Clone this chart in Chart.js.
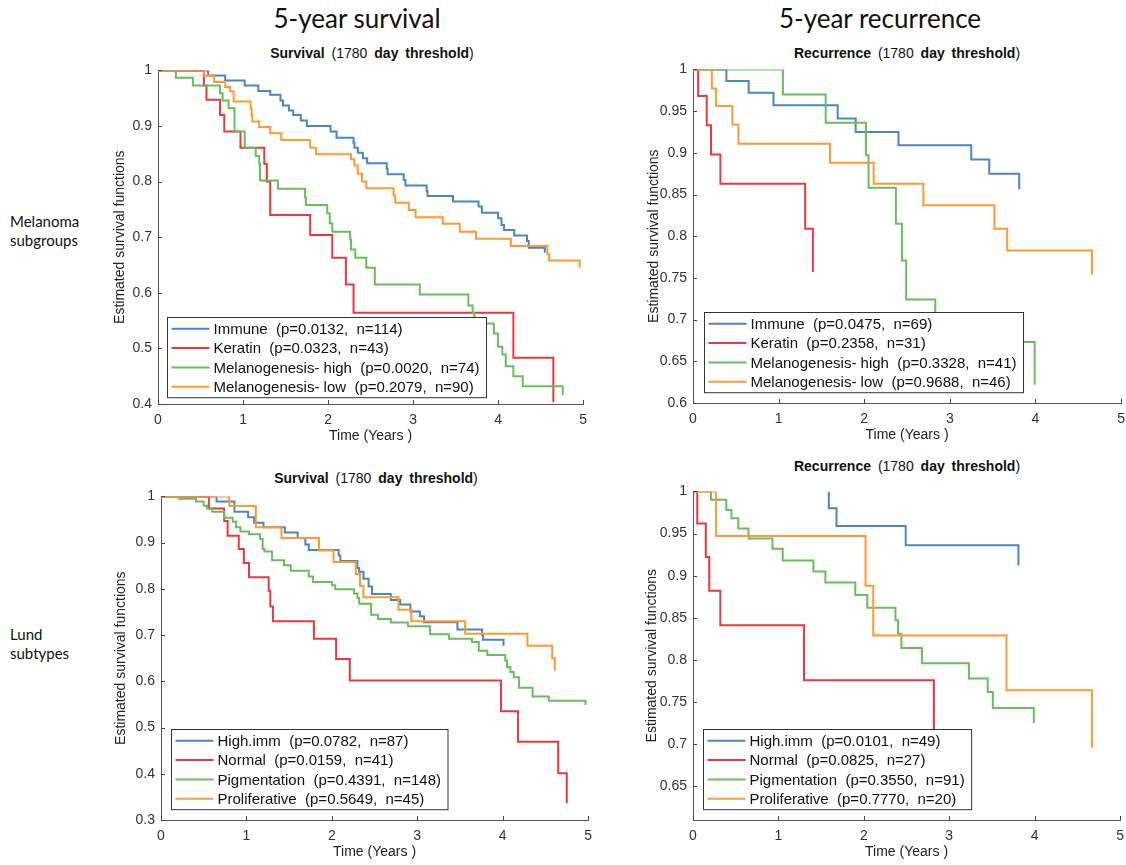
<!DOCTYPE html>
<html>
<head>
<meta charset="utf-8">
<script src="https://cdn.jsdelivr.net/npm/chart.js@4.4.0/dist/chart.umd.min.js"></script>
<style>
  html, body { margin: 0; padding: 0; background: #fff; }
  body { width: 1126px; height: 865px; position: relative; overflow: hidden; font-family: "Liberation Sans", Arial, sans-serif; }
  canvas { position: absolute; }
  .head { position: absolute; font-family: Lato, "Open Sans", sans-serif; font-size: 26px; color: #111; transform: translate(-50%, -50%); white-space: nowrap; }
  .row { position: absolute; font-family: Lato, "Open Sans", sans-serif; font-size: 15px; line-height: 19px; color: #111; }
  .ttl { position: absolute; font-size: 14px; color: #111; transform: translate(-50%, -50%); white-space: nowrap; word-spacing: 3px; }
</style>
</head>
<body>
<div class="head" style="left:357px; top:18px;">5-year survival</div>
<div class="head" style="left:880px; top:18px;">5-year recurrence</div>
<div class="row" style="left:10px; top:212px;">Melanoma<br>subgroups</div>
<div class="row" style="left:10px; top:625px;">Lund<br>subtypes</div>
<div class="ttl" style="left:372px; top:53px;"><b>Survival</b> (1780 <b>day threshold</b>)</div>
<div class="ttl" style="left:907px; top:53px;"><b>Recurrence</b> (1780 <b>day threshold</b>)</div>
<div class="ttl" style="left:376px; top:478px;"><b>Survival</b> (1780 <b>day threshold</b>)</div>
<div class="ttl" style="left:907px; top:466px;"><b>Recurrence</b> (1780 <b>day threshold</b>)</div>

<canvas id="melSurv" width="500" height="396" style="left:95px; top:56px;"></canvas>
<canvas id="melRec" width="503" height="396" style="left:630px; top:55px;"></canvas>
<canvas id="lundSurv" width="502" height="386" style="left:98px; top:482px;"></canvas>
<canvas id="lundRec" width="502" height="391" style="left:630px; top:477px;"></canvas>

<script>
// ---- data: [time in years, estimated survival] at each step ----

// Melanoma subgroups, survival
const melSurvImmune = [[0,1],[0.59,0.991],[0.79,0.982],[1.02,0.973],[1.18,0.963],[1.32,0.956],[1.44,0.946],[1.47,0.937],[1.54,0.928],[1.59,0.92],[1.68,0.91],[1.75,0.90],[2.03,0.89],[2.10,0.879],[2.30,0.87],[2.31,0.861],[2.35,0.852],[2.41,0.842],[2.46,0.833],[2.69,0.823],[2.70,0.813],[2.89,0.803],[2.91,0.793],[3.16,0.783],[3.17,0.774],[3.47,0.764],[3.77,0.755],[3.81,0.744],[4.00,0.734],[4.04,0.722],[4.07,0.713],[4.19,0.703],[4.34,0.693],[4.36,0.681],[4.55,0.672]];
const melSurvKeratin = [[0,1],[0.54,0.973],[0.57,0.947],[0.73,0.92],[0.78,0.89],[0.97,0.861],[1.25,0.832],[1.28,0.80],[1.32,0.74],[1.79,0.704],[2.05,0.663],[2.21,0.615],[2.30,0.564],[4.18,0.483],[4.65,0.403]];
const melSurvMelHigh = [[0,1],[0.21,0.987],[0.41,0.973],[0.73,0.959],[0.76,0.946],[0.83,0.932],[0.90,0.89],[1.02,0.861],[1.15,0.846],[1.19,0.832],[1.20,0.802],[1.41,0.787],[1.73,0.772],[1.74,0.758],[1.99,0.743],[2.02,0.725],[2.05,0.71],[2.26,0.696],[2.27,0.678],[2.32,0.663],[2.45,0.645],[2.55,0.615],[3.08,0.597],[3.65,0.577],[3.70,0.563],[3.72,0.545],[3.95,0.527],[4.00,0.503],[4.05,0.489],[4.09,0.468],[4.18,0.45],[4.29,0.432],[4.76,0.416]];
const melSurvMelLow = [[0,1],[0.54,0.991],[0.66,0.979],[0.79,0.97],[0.85,0.962],[0.89,0.944],[1.09,0.932],[1.10,0.92],[1.11,0.908],[1.19,0.898],[1.32,0.887],[1.45,0.875],[1.79,0.861],[1.86,0.849],[2.27,0.84],[2.31,0.829],[2.35,0.814],[2.40,0.80],[2.45,0.788],[2.77,0.775],[2.79,0.762],[2.95,0.749],[3.03,0.736],[3.35,0.724],[3.55,0.71],[3.74,0.697],[4.15,0.684],[4.58,0.67],[4.60,0.658],[4.96,0.645]];

// Melanoma subgroups, recurrence
const melRecImmune = [[0,1],[0.39,0.986],[0.65,0.972],[0.94,0.957],[1.69,0.941],[1.90,0.925],[2.40,0.909],[3.25,0.892],[3.46,0.875],[3.81,0.856]];
const melRecKeratin = [[0,1],[0.06,0.968],[0.16,0.933],[0.21,0.898],[0.32,0.863],[1.31,0.809],[1.40,0.757]];
const melRecMelHigh = [[0,1],[1.05,0.97],[1.55,0.936],[2.02,0.897],[2.05,0.858],[2.37,0.815],[2.44,0.771],[2.49,0.724],[2.83,0.698],[3.40,0.673],[3.99,0.622]];
const melRecMelLow = [[0,1],[0.22,0.977],[0.27,0.956],[0.46,0.934],[0.53,0.911],[1.60,0.888],[2.11,0.863],[2.69,0.837],[3.52,0.809],[3.67,0.783],[4.66,0.754]];

// Lund subtypes, survival
const lundSurvHighImm = [[0,1],[0.65,0.989],[0.86,0.967],[1.02,0.955],[1.09,0.943],[1.20,0.933],[1.45,0.922],[1.60,0.91],[1.69,0.896],[1.73,0.884],[2.08,0.872],[2.10,0.86],[2.30,0.845],[2.32,0.837],[2.37,0.822],[2.43,0.805],[2.47,0.789],[2.69,0.776],[2.80,0.766],[2.92,0.751],[3.03,0.741],[3.08,0.728],[3.47,0.712],[3.76,0.70],[3.77,0.69],[4.01,0.677]];
const lundSurvNormal = [[0,1],[0.56,0.974],[0.74,0.947],[0.78,0.915],[0.91,0.886],[0.97,0.856],[1.03,0.825],[1.26,0.796],[1.28,0.762],[1.31,0.73],[1.79,0.692],[2.05,0.648],[2.21,0.602],[3.98,0.535],[4.18,0.469],[4.65,0.401],[4.75,0.336]];
const lundSurvPigment = [[0,1],[0.21,0.995],[0.41,0.989],[0.50,0.98],[0.54,0.974],[0.60,0.967],[0.74,0.954],[0.84,0.945],[0.88,0.933],[0.93,0.924],[1.03,0.918],[1.16,0.908],[1.19,0.886],[1.21,0.881],[1.30,0.862],[1.44,0.851],[1.52,0.839],[1.73,0.827],[1.78,0.815],[2.00,0.808],[2.04,0.799],[2.26,0.79],[2.30,0.78],[2.32,0.768],[2.46,0.744],[2.54,0.735],[2.69,0.727],[2.89,0.719],[3.15,0.702],[3.37,0.692],[3.64,0.685],[3.72,0.666],[3.82,0.657],[4.03,0.645],[4.05,0.631],[4.09,0.62],[4.13,0.609],[4.19,0.586],[4.35,0.567],[4.54,0.558],[4.97,0.549]];
const lundSurvProlif = [[0,1],[0.80,0.979],[1.11,0.933],[1.41,0.91],[1.85,0.883],[2.02,0.858],[2.28,0.832],[2.33,0.806],[2.37,0.782],[2.78,0.755],[2.93,0.73],[3.56,0.703],[4.29,0.677],[4.58,0.65],[4.61,0.624]];

// Lund subtypes, recurrence
const lundRecHighImm = [[1.59,1],[1.59,0.98],[1.68,0.959],[2.49,0.936],[3.81,0.912]];
const lundRecNormal = [[0,1],[0.05,0.962],[0.15,0.922],[0.19,0.882],[0.32,0.841],[1.30,0.776],[2.82,0.71]];
const lundRecPigment = [[0,1],[0.21,0.99],[0.39,0.978],[0.45,0.968],[0.53,0.956],[0.65,0.944],[0.93,0.932],[1.05,0.918],[1.41,0.905],[1.55,0.892],[1.90,0.877],[2.04,0.862],[2.37,0.847],[2.40,0.831],[2.44,0.814],[2.68,0.796],[3.23,0.778],[3.45,0.762],[3.51,0.743],[3.99,0.725]];
const lundRecProlif = [[0,1],[0.27,0.947],[2.02,0.888],[2.11,0.829],[3.67,0.764],[4.67,0.696]];

// legend texts
const melNames = ['Immune', 'Keratin', 'Melanogenesis- high', 'Melanogenesis- low'];
const lundNames = ['High.imm', 'Normal', 'Pigmentation', 'Proliferative'];
const melSurvP = ['0.0132', '0.0323', '0.0020', '0.2079'];
const melSurvN = [114, 43, 74, 90];
const melRecP = ['0.0475', '0.2358', '0.3328', '0.9688'];
const melRecN = [69, 31, 41, 46];
const lundSurvP = ['0.0782', '0.0159', '0.4391', '0.5649'];
const lundSurvN = [87, 41, 148, 45];
const lundRecP = ['0.0101', '0.0825', '0.3550', '0.7770'];
const lundRecN = [49, 27, 91, 20];

// ticks
const xTicks = [0, 1, 2, 3, 4, 5];
const colors = ['#4a87c0', '#e8393e', '#69bd5c', '#ff9a2f'];

// inward tick marks + legend box drawn over the lines
const kmDecor = {
    id: 'kmDecor',
    afterDatasetsDraw(chart, args, opts) {
        const ctx = chart.ctx;
        const area = chart.chartArea;
        const xs = chart.scales.x, ys = chart.scales.y;
        ctx.save();
        ctx.strokeStyle = '#444';
        ctx.lineWidth = 1;
        ctx.beginPath();
        xs.ticks.forEach(t => {
            const px = Math.round(xs.getPixelForValue(t.value)) + 0.5;
            ctx.moveTo(px, area.bottom);
            ctx.lineTo(px, area.bottom - 4);
        });
        ys.ticks.forEach(t => {
            const py = Math.round(ys.getPixelForValue(t.value)) + 0.5;
            ctx.moveTo(area.left, py);
            ctx.lineTo(area.left + 4, py);
        });
        ctx.stroke();

        // legend
        ctx.font = '15px "Liberation Sans", Arial, sans-serif';
        const labels = chart.data.datasets.map(d => d.label);
        const tw = Math.max(...labels.map(l => ctx.measureText(l).width));
        const rowH = 19.3;
        const bw = 46 + tw + 7;
        const bh = rowH * labels.length + 3;
        const bx = Math.round(area.left + opts.dx) + 0.5;
        const by = Math.round(area.bottom - opts.dy - bh) + 0.5;
        ctx.fillStyle = '#fff';
        ctx.fillRect(bx, by, bw, bh);
        ctx.strokeStyle = '#333';
        ctx.strokeRect(bx, by, bw, bh);
        ctx.textBaseline = 'middle';
        labels.forEach((l, i) => {
            const cy = by + 11.3 + i * rowH;
            ctx.strokeStyle = chart.data.datasets[i].borderColor;
            ctx.lineWidth = 2;
            ctx.beginPath();
            ctx.moveTo(bx + 4, cy);
            ctx.lineTo(bx + 42, cy);
            ctx.stroke();
            ctx.fillStyle = '#111';
            ctx.fillText(l, bx + 46, cy + 1);
        });
        ctx.restore();
    }
};

function makePanel(id, series, names, pvals, ns, yMin, yStep, legendPos, yTitlePad) {
    const datasets = series.map((s, i) => ({
        label: names[i] + '  (p=' + pvals[i] + ',  n=' + ns[i] + ')',
        data: s.map(p => ({ x: p[0], y: p[1] })),
        borderColor: colors[i],
        borderWidth: 2,
        pointRadius: 0,
        stepped: true,
        fill: false,
        order: series.length - i
    }));
    const tickFont = { family: '"Liberation Sans", Arial, sans-serif', size: 14 };
    return new Chart(document.getElementById(id), {
        type: 'line',
        data: { datasets: datasets },
        options: {
            responsive: false,
            animation: false,
            layout: { padding: { top: 10, right: 10, left: 0, bottom: 0 } },
            plugins: {
                legend: { display: false },
                tooltip: { enabled: false },
                kmDecor: legendPos
            },
            scales: {
                x: {
                    type: 'linear',
                    min: 0,
                    max: 5,
                    afterBuildTicks: sc => { sc.ticks = xTicks.map(v => ({ value: v })); },
                    afterFit: sc => { sc.height = 48; },
                    grid: { display: false, drawTicks: false },
                    border: { display: true, color: '#555', width: 1 },
                    ticks: { font: tickFont, color: '#333', padding: 8, maxRotation: 0 },
                    title: { display: true, text: 'Time (Years )', font: tickFont, color: '#222', padding: { top: 0, bottom: 7 } }
                },
                y: {
                    min: yMin,
                    max: 1,
                    afterFit: sc => { sc.width = 63; },
                    grid: { display: false, drawTicks: false },
                    border: { display: true, color: '#555', width: 1 },
                    ticks: {
                        stepSize: yStep,
                        includeBounds: false,
                        font: tickFont,
                        color: '#333',
                        padding: 6,
                        callback: v => String(+v.toFixed(2))
                    },
                    title: { display: true, text: 'Estimated survival functions', font: tickFont, color: '#222', padding: { top: yTitlePad, bottom: 0 } }
                }
            }
        },
        plugins: [kmDecor]
    });
}

makePanel('melSurv', [melSurvImmune, melSurvKeratin, melSurvMelHigh, melSurvMelLow], melNames, melSurvP, melSurvN, 0.4, 0.1, { dx: 9, dy: 7 }, 17);
makePanel('melRec', [melRecImmune, melRecKeratin, melRecMelHigh, melRecMelLow], melNames, melRecP, melRecN, 0.6, 0.05, { dx: 11, dy: 11 }, 16);
makePanel('lundSurv', [lundSurvHighImm, lundSurvNormal, lundSurvPigment, lundSurvProlif], lundNames, lundSurvP, lundSurvN, 0.3, 0.1, { dx: 10, dy: 11 }, 15);
makePanel('lundRec', [lundRecHighImm, lundRecNormal, lundRecPigment, lundRecProlif], lundNames, lundRecP, lundRecN, 0.61, 0.05, { dx: 10, dy: 11 }, 14);
</script>
</body>
</html>
